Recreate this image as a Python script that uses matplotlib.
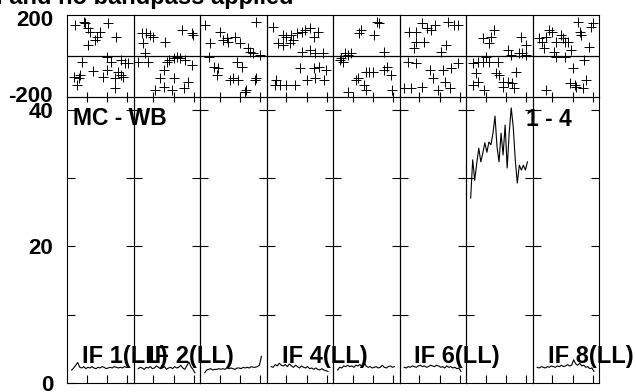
import numpy as np
import matplotlib
matplotlib.use("Agg")
import matplotlib.pyplot as plt

plt.rcParams['font.family'] = ['Liberation Sans', 'DejaVu Sans']
plt.rcParams['font.weight'] = 'bold'
plt.rcParams['axes.unicode_minus'] = False

# channel axis for the amplitude spectra
chan = np.arange(5, 62, 2)

# amplitude spectra (Jy) per IF
amp1 = [1.9, 2.2, 2.6, 3.0, 2.3, 2.2, 2.4, 2.1, 2.3, 2.2, 2.4, 2.2, 2.1, 2.3, 2.2,
        2.4, 2.3, 2.1, 2.2, 2.3, 2.2, 2.4, 2.3, 2.2, 2.3, 2.2, 2.4, 2.3, 2.3]
amp2 = [2.1, 2.3, 2.2, 2.0, 2.3, 2.2, 2.4, 2.1, 2.2, 2.5, 2.3, 2.1, 2.2, 2.4, 2.0,
        2.2, 2.3, 2.1, 2.4, 2.2, 2.3, 2.6, 2.2, 2.0, 2.5, 3.1, 2.4, 2.0, 1.5]
amp3 = [1.5, 1.9, 2.0, 2.1, 1.9, 2.0, 2.0, 2.1, 2.0, 2.1, 2.0, 2.2, 2.1, 2.2, 2.1,
        2.0, 2.2, 2.2, 2.1, 2.3, 2.2, 2.3, 2.2, 2.4, 2.3, 2.3, 2.4, 2.6, 3.9]
amp4 = [2.4, 2.3, 2.7, 2.5, 2.9, 2.6, 2.5, 2.7, 2.4, 2.8, 2.5, 2.3, 2.6, 2.4, 2.2,
        2.5, 2.3, 2.2, 2.4, 2.1, 2.2, 2.0, 2.2, 2.0, 1.9, 2.1, 1.9, 1.8, 1.7]
amp5 = [1.9, 2.3, 2.2, 2.5, 2.4, 2.6, 2.4, 2.5, 2.3, 2.6, 2.5, 2.7, 2.4, 3.1, 2.5,
        2.3, 2.4, 2.2, 2.3, 2.4, 2.2, 2.3, 2.6, 2.3, 2.2, 2.4, 2.5, 2.3, 2.4]
amp6 = [2.3, 2.2, 2.4, 2.3, 2.5, 2.4, 2.3, 2.5, 2.6, 2.4, 2.5, 2.3, 2.4, 2.6, 2.5,
        2.4, 2.6, 2.5, 2.3, 2.4, 2.2, 2.5, 2.3, 2.4, 2.2, 2.3, 2.1, 2.2, 1.7]
amp7 = [27.1, 32.7, 29.7, 32.2, 34.4, 32.4, 33.7, 35.2, 33.8, 35.3, 34.9, 36.6, 39.1, 34.6, 32.4,
        36.6, 33.4, 37.8, 31.5, 36.6, 40.3, 37.5, 32.7, 29.3, 31.9, 31.2, 31.9, 31.2, 32.4]
amp8 = [2.3, 2.2, 2.4, 2.3, 2.2, 2.4, 2.3, 2.5, 2.4, 2.3, 2.5, 2.4, 2.6, 2.4, 2.5,
        2.7, 2.5, 2.6, 3.4, 2.8, 2.6, 2.9, 2.5, 2.6, 2.3, 2.4, 2.1, 2.2, 1.7]

# phase points (channel, degrees) per IF
ph1_ch = [8, 17, 18, 21, 23, 33, 30, 28, 21, 41, 49, 15, 40, 44, 54, 58, 61, 26, 40, 51,
          7, 12, 10, 36, 48, 54, 56, 48, 13]
ph1 = [163, 180, 172, 146, 128, 128, 102, 84, 58, 172, 98, -30, -4, -30, -21, -38, -35, -77, -74, -83,
       -109, -117, -153, -109, -117, -100, -109, -170, -100]
ph2_ch = [9, 13, 17, 20, 10, 31, 48, 58, 59, 12, 5, 15, 35, 40, 43, 46, 51, 58, 30, 27,
          40, 54, 22, 30, 38, 50, 33]
ph2 = [119, 119, 110, 102, 67, 75, 137, 119, 110, 14, -30, -30, -21, -12, -4, -12, -21, -47, -74, -117,
       -117, -135, -179, -161, -179, -170, -30]
ph3_ch = [5, 20, 23, 27, 28, 35, 40, 48, 50, 56, 10, 9, 14, 18, 17, 37, 42, 30, 33, 38,
          45, 46, 55, 56, 60, 53]
ph3 = [163, 128, 84, 93, 75, 102, 67, 40, 23, 180, 67, -4, -56, -65, -100, -30, -56, -126, -117, -126,
       -188, -179, -126, -117, 5, 14]
ph4_ch = [7, 17, 20, 25, 27, 30, 35, 38, 43, 47, 12, 17, 24, 35, 43, 48, 33, 47, 10, 9,
          14, 20, 29, 40, 48, 51, 56, 52, 59, 57]
ph4 = [154, 110, 102, 110, 84, 119, 128, 137, 146, 102, 67, 58, 67, 23, 32, 14, -65, -65, -126, -153,
       -153, -153, -153, -126, -117, 128, 14, -56, -74, -126]
ph5_ch = [26, 28, 41, 44, 46, 7, 8, 12, 15, 18, 51, 23, 25, 31, 33, 36, 40, 51, 54, 58,
          15, 33, 59, 10]
ph5 = [119, 137, 110, 180, 172, -21, -12, 14, 5, 14, 23, -126, -117, -153, -83, -83, -83, -74, -56, -100,
       -188, -179, -179, -30]
ph6_ch = [10, 17, 23, 28, 31, 35, 48, 54, 58, 17, 25, 15, 41, 46, 9, 17, 30, 43, 51, 58,
          33, 45, 50, 5, 12, 23, 38]
ph6 = [128, 128, 172, 146, 137, 163, 180, 163, 163, 75, 75, 40, 23, 58, -30, -38, -74, -74, -65, -38,
       -117, -135, -170, -170, -170, -161, -179]
ph7_ch = [17, 25, 23, 28, 55, 60, 42, 45, 53, 56, 60, 20, 7, 12, 17, 23, 32, 10, 30, 33,
          50, 12, 7, 37, 42, 46, 37, 48, 18]
ph7 = [93, 102, 67, 137, 102, 58, 32, 5, 14, 14, 5, -4, -38, -30, -30, -30, -30, -91, -91, -100,
       -83, -135, -153, -135, -135, -144, -161, -170, -179]
ph8_ch = [7, 10, 12, 14, 17, 20, 24, 29, 30, 32, 35, 38, 22, 24, 32, 45, 47, 48, 58, 60,
          56, 51, 40, 37, 42, 50, 53, 14, 43]
ph8 = [93, 75, 40, 102, 137, 128, 75, 110, 93, 75, 75, 32, 23, -4, -4, 180, 128, 110, 154, 172,
       49, -21, -65, -144, -153, -170, -126, -179, -161]

amps = [amp1, amp2, amp3, amp4, amp5, amp6, amp7, amp8]
ph_chans = [ph1_ch, ph2_ch, ph3_ch, ph4_ch, ph5_ch, ph6_ch, ph7_ch, ph8_ch]
phases = [ph1, ph2, ph3, ph4, ph5, ph6, ph7, ph8]
if_labels = ['IF 1(LL)', 'IF 2(LL)', '', 'IF 4(LL)', '', 'IF 6(LL)', '', 'IF 8(LL)']

W, H = 636, 392
fig = plt.figure(figsize=(W / 100, H / 100), dpi=100)

x0 = 67.0      # left edge in pixels
colw = 66.5    # column width in pixels
ph_top, ph_bot = 15.0, 97.0
am_top, am_bot = 97.0, 383.0

for i in range(8):
    left = (x0 + i * colw) / W
    axp = fig.add_axes([left, (H - ph_bot) / H, colw / W, (ph_bot - ph_top) / H])
    axa = fig.add_axes([left, (H - am_bot) / H, colw / W, (am_bot - am_top) / H])

    # phase panel
    axp.patch.set_visible(False)
    axp.plot(ph_chans[i], phases[i], '+', color='black', ms=6.5, mew=0.7)
    axp.axhline(0, color='black', lw=0.9)
    axp.set_xlim(0.4, 66)
    axp.set_ylim(-215, 215)
    axp.set_xticks([20, 40, 60])
    axp.set_xticklabels([])
    axp.tick_params(axis='x', bottom=True, top=False, direction='inout', length=7, width=0.8)
    axp.set_yticks([-200, 200])
    axp.tick_params(axis='y', length=0, labelsize=16, pad=10)
    if i > 0:
        axp.set_yticklabels([])

    # amplitude panel
    axa.patch.set_visible(False)
    axa.plot(chan, amps[i], color='black', lw=0.8)
    axa.set_xlim(0.4, 66)
    axa.set_ylim(0, 41.9)
    axa.set_xticks([20, 40, 60])
    axa.set_xticklabels([])
    axa.tick_params(axis='x', bottom=True, top=False, direction='in', length=6, width=0.8)
    axa.set_yticks([10, 20, 30, 40])
    axa.tick_params(axis='y', left=True, right=True, direction='in', length=6, width=0.8,
                    labelsize=16, pad=10)
    if i == 0:
        axa.set_yticks([0, 10, 20, 30, 40])
        axa.set_yticklabels(['0', '', '20', '', '40'])
    else:
        axa.set_yticklabels([])

    for ax in (axp, axa):
        for s in ax.spines.values():
            s.set_linewidth(0.8)
            s.set_color('black')

    if if_labels[i]:
        axa.text(15 / colw, (am_bot - 363) / (am_bot - am_top), if_labels[i],
                 transform=axa.transAxes, ha='left', va='baseline',
                 fontsize=17, fontweight='bold', clip_on=False, zorder=5)

fig.text(73 / W, 1 - 107 / H, 'MC - WB', ha='left', va='top', fontsize=16.5, fontweight='bold')
fig.text(526 / W, 1 - 108 / H, '1 - 4', ha='left', va='top', fontsize=16.5, fontweight='bold')
fig.text(293 / W, 1 - 4 / H, 'I and no bandpass applied', ha='right', va='baseline',
         fontsize=17, fontweight='bold')

fig.savefig('out.png', dpi=100)
